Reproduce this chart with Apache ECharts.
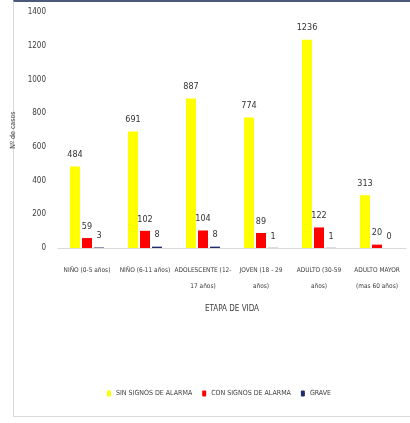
<!DOCTYPE html>
<html><head><meta charset="utf-8">
<script src="https://cdn.jsdelivr.net/npm/echarts@6/dist/echarts.min.js"></script>
<style>
html,body{margin:0;padding:0;background:#fff;}
#frame{position:absolute;left:13px;top:0;width:396px;height:414px;border-top:2px solid #4a5a78;border-left:1px solid #d9d9d9;border-bottom:1px solid #d9d9d9;}
#c{position:absolute;left:0;top:0;width:410px;height:423px;}
</style></head>
<body><div id="frame"></div><div id="c"></div>
<script>
const categories = ['NIÑO (0-5 años)', 'NIÑO (6-11 años)', 'ADOLESCENTE (12-\n17 años)', 'JOVEN (18 - 29\naños)', 'ADULTO (30-59\naños)', 'ADULTO MAYOR\n(mas 60 años)'];
const sinSignos = [484, 691, 887, 774, 1236, 313];
const conSignos = [59, 102, 104, 89, 122, 20];
const grave = [3, 8, 8, 1, 1, 0];
const seriesNames = ['SIN SIGNOS DE ALARMA', 'CON SIGNOS DE ALARMA', 'GRAVE'];
const yTicks = {min: 0, max: 1400, interval: 200};

const font = "'DejaVu Sans Condensed', 'Liberation Sans Narrow', sans-serif";
const chart = echarts.init(document.getElementById('c'));
const lbl = {show: true, position: 'top', fontSize: 9, color: '#333', fontFamily: font, distance: 7};
chart.setOption({
  animation: false,
  textStyle: {fontFamily: font},
  grid: {left: 58, right: 4, top: 12, bottom: 175},
  legend: {
    bottom: 21, left: 102, itemWidth: 4, itemHeight: 6, itemGap: 10,
    textStyle: {fontSize: 7, color: '#404040', fontFamily: font},
    data: seriesNames
  },
  xAxis: {
    type: 'category', data: categories,
    name: 'ETAPA DE VIDA', nameLocation: 'middle', nameGap: 57,
    nameTextStyle: {fontSize: 8, color: '#404040', fontFamily: font},
    axisTick: {show: false},
    axisLine: {lineStyle: {color: '#d9d9d9'}},
    axisLabel: {interval: 0, fontSize: 6.5, color: '#404040', lineHeight: 16, margin: 14, fontFamily: font}
  },
  yAxis: {
    type: 'value', min: yTicks.min, max: yTicks.max, interval: yTicks.interval,
    name: 'Nº de casos', nameLocation: 'middle', nameGap: 29,
    nameTextStyle: {fontSize: 7, color: '#404040', fontFamily: font},
    splitLine: {show: false},
    axisLabel: {fontSize: 8, color: '#404040', margin: 12, fontFamily: font, formatter: v => String(v)}
  },
  series: [
    {name: seriesNames[0], type: 'bar', data: sinSignos, barWidth: 10, barGap: '20%', itemStyle: {color: '#ffff00'}, label: lbl},
    {name: seriesNames[1], type: 'bar', data: conSignos, barWidth: 10, itemStyle: {color: '#ff0000'}, label: lbl},
    {name: seriesNames[2], type: 'bar', data: grave, barWidth: 10, itemStyle: {color: '#1f2d6b'}, label: lbl}
  ]
});
</script></body></html>
